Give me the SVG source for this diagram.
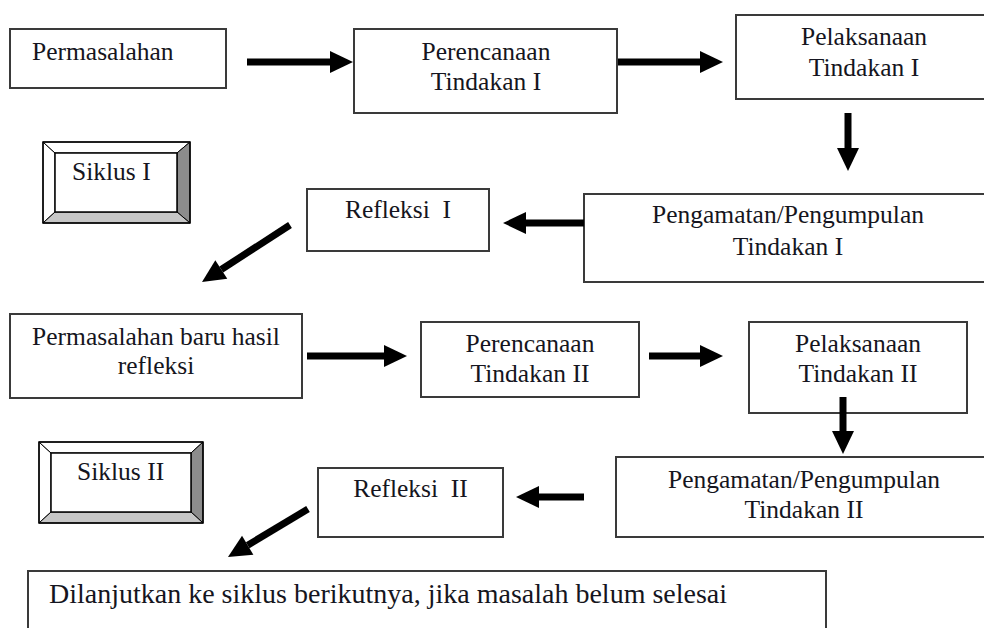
<svg xmlns="http://www.w3.org/2000/svg" width="984" height="628" viewBox="0 0 984 628">
<defs>
<style>
.box{fill:#fff;stroke:#3a3a3a;stroke-width:2}
.t{font-family:"Liberation Serif","Tinos","Times New Roman",serif;font-size:25.5px;fill:#151520}
.c{text-anchor:middle}
.big{font-size:28px}
.pre{white-space:pre}
.arr{stroke:#000;stroke-width:7;fill:none;marker-end:url(#head)}
.bev-o{fill:none;stroke:#000;stroke-width:1.5}
</style>
<marker id="head" markerUnits="userSpaceOnUse" markerWidth="24" markerHeight="22" refX="0" refY="11" orient="auto" overflow="visible">
<path d="M0,0 L23,11 L0,22 Z" fill="#000"/>
</marker>
</defs>
<rect width="984" height="628" fill="#fff"/>

<g id="permasalahan">
<rect class="box" x="10" y="29" width="216" height="59"/>
<text class="t" x="32" y="60">Permasalahan</text>
</g>
<g id="perencanaan1">
<rect class="box" x="354" y="29" width="263" height="84"/>
<text class="t c" x="486" y="60">Perencanaan</text>
<text class="t c" x="486" y="90">Tindakan I</text>
</g>
<g id="pelaksanaan1">
<rect class="box" x="736" y="15" width="260" height="84"/>
<text class="t c" x="864" y="45">Pelaksanaan</text>
<text class="t c" x="864" y="76">Tindakan I</text>
</g>
<g id="siklus1">
<polygon points="43,142 55,153 55,212 43,223" fill="#fff" stroke="#000" stroke-width="1"/>
<polygon points="43,142 190,142 177,153 55,153" fill="#fff" stroke="#000" stroke-width="1"/>
<polygon points="190,142 190,223 177,212 177,153" fill="#8c8c8c" stroke="#000" stroke-width="1"/>
<polygon points="43,223 55,212 177,212 190,223" fill="#c6c6c6" stroke="#000" stroke-width="1"/>
<rect x="55" y="153" width="122" height="59" fill="#fff" stroke="#000" stroke-width="1.5"/>
<rect class="bev-o" x="43" y="142" width="147" height="81"/>
<text class="t" x="72" y="180">Siklus I</text>
</g>
<g id="refleksi1">
<rect class="box" x="307" y="189" width="182" height="62"/>
<text class="t c pre" x="398" y="218">Refleksi  I</text>
</g>
<g id="pengamatan1">
<rect class="box" x="584" y="194" width="412" height="88"/>
<text class="t c" x="788" y="223">Pengamatan/Pengumpulan</text>
<text class="t c" x="788" y="255">Tindakan I</text>
</g>
<g id="permasalahan-baru">
<rect class="box" x="10" y="314" width="292" height="84"/>
<text class="t c" x="156" y="345">Permasalahan baru hasil</text>
<text class="t c" x="156" y="374">refleksi</text>
</g>
<g id="perencanaan2">
<rect class="box" x="421" y="322" width="218" height="75"/>
<text class="t c" x="530" y="352">Perencanaan</text>
<text class="t c" x="530" y="382">Tindakan II</text>
</g>
<g id="pelaksanaan2">
<rect class="box" x="749" y="322" width="218" height="91"/>
<text class="t c" x="858" y="352">Pelaksanaan</text>
<text class="t c" x="858" y="382">Tindakan II</text>
</g>
<g id="siklus2">
<polygon points="39,442 51,453 51,512 39,523" fill="#fff" stroke="#000" stroke-width="1"/>
<polygon points="39,442 203,442 191,453 51,453" fill="#fff" stroke="#000" stroke-width="1"/>
<polygon points="203,442 203,523 191,512 191,453" fill="#8c8c8c" stroke="#000" stroke-width="1"/>
<polygon points="39,523 51,512 191,512 203,523" fill="#c6c6c6" stroke="#000" stroke-width="1"/>
<rect x="51" y="453" width="140" height="59" fill="#fff" stroke="#000" stroke-width="1.5"/>
<rect class="bev-o" x="39" y="442" width="164" height="81"/>
<text class="t" x="77" y="480">Siklus II</text>
</g>
<g id="refleksi2">
<rect class="box" x="318" y="468" width="185" height="69"/>
<text class="t c pre" x="410.5" y="497">Refleksi  II</text>
</g>
<g id="pengamatan2">
<rect class="box" x="616" y="457" width="380" height="80"/>
<text class="t c" x="804" y="488">Pengamatan/Pengumpulan</text>
<text class="t c" x="804" y="518">Tindakan II</text>
</g>
<g id="lanjut">
<rect class="box" x="28" y="571" width="798" height="80"/>
<text class="t big" x="49" y="603">Dilanjutkan ke siklus berikutnya, jika masalah belum selesai</text>
</g>

<g id="connectors">
<line class="arr" x1="247" y1="62" x2="330" y2="62"/>
<line class="arr" x1="618" y1="62" x2="700" y2="62"/>
<line class="arr" x1="848" y1="113" x2="848" y2="148"/>
<line class="arr" x1="584" y1="223" x2="526" y2="223"/>
<line class="arr" x1="290" y1="225" x2="221.3" y2="269.5"/>
<line class="arr" x1="307" y1="356" x2="384" y2="356"/>
<line class="arr" x1="649" y1="356" x2="700" y2="356"/>
<line class="arr" x1="843" y1="397" x2="843" y2="431"/>
<line class="arr" x1="584" y1="497" x2="539" y2="497"/>
<line class="arr" x1="308" y1="509" x2="247.7" y2="545.2"/>
</g>
</svg>
